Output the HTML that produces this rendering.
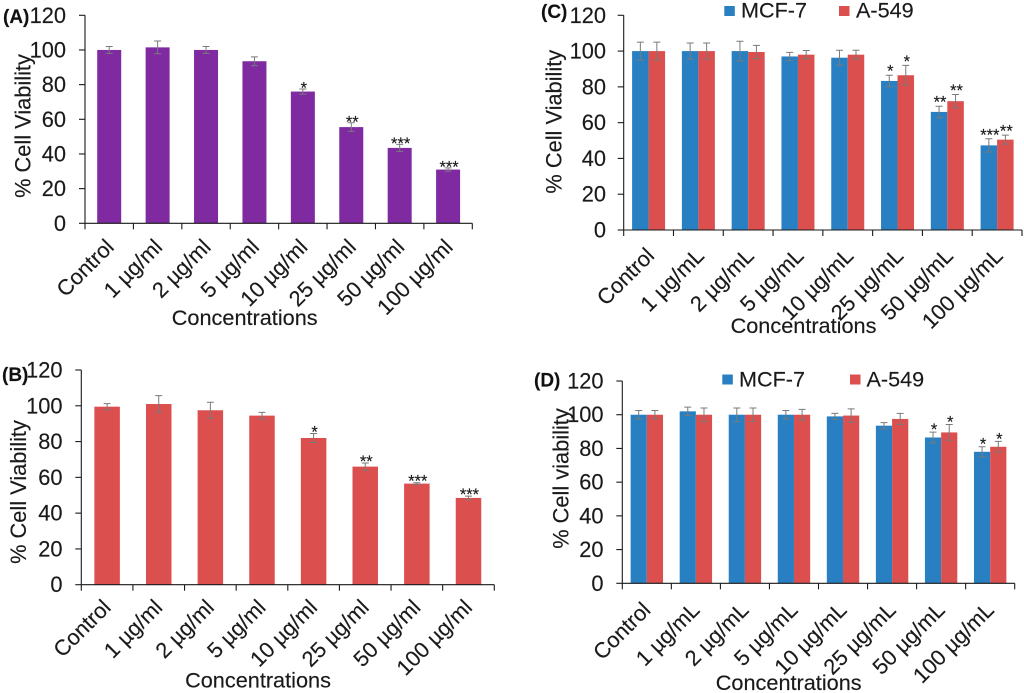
<!DOCTYPE html>
<html lang="en">
<head>
<meta charset="utf-8">
<title>Cell viability charts</title>
<style>
html,body{margin:0;padding:0;background:#fff;width:1024px;height:693px;overflow:hidden}
svg{display:block;filter:blur(0.35px)}
text{font-family:"Liberation Sans",Arial,sans-serif;fill:#1a1a1a;stroke:#1a1a1a;stroke-width:0.15px}
</style>
</head>
<body>
<svg id="figure" width="1024" height="693" viewBox="0 0 1024 693" xmlns="http://www.w3.org/2000/svg"></svg>
<script>
const yTicks = [0, 20, 40, 60, 80, 100, 120];
const categoriesLower = ['Control', '1 µg/ml', '2 µg/ml', '5 µg/ml', '10 µg/ml', '25 µg/ml', '50 µg/ml', '100 µg/ml'];
const categoriesUpper = ['Control', '1 µg/mL', '2 µg/mL', '5 µg/mL', '10 µg/mL', '25 µg/mL', '50 µg/mL', '100 µg/mL'];

const valuesA = [100, 101.5, 100, 93.5, 76, 55.5, 43.5, 31];
const errorsA = [2, 3.7, 2, 2.5, 1.5, 2.5, 2, 1];
const starsA = ['', '', '', '', '*', '**', '***', '***'];

const valuesB = [99.5, 101, 97.5, 94.5, 82, 66, 56.5, 48.5];
const errorsB = [1.7, 4.7, 4.5, 1.8, 2.5, 2, 0.5, 1];
const starsB = ['', '', '', '', '*', '**', '***', '***'];

const valuesCMcf = [100, 100, 100, 97, 96.3, 83.3, 66, 47.3];
const errorsCMcf = [5, 4.5, 5.5, 2.3, 4.2, 3.2, 3.2, 3.7];
const starsCMcf = ['', '', '', '', '', '*', '**', '***'];
const valuesCA549 = [100, 100, 99.5, 98, 98, 86.5, 72, 50.5];
const errorsCA549 = [5, 4.5, 3.7, 2.3, 2.5, 5.5, 3.7, 2.5];
const starsCA549 = ['', '', '', '', '', '*', '**', '**'];

const valuesDMcf = [100, 102, 100, 100, 99, 93.5, 86.5, 78];
const errorsDMcf = [2.5, 2.5, 4, 2.5, 1.8, 1.8, 3.2, 3];
const starsDMcf = ['', '', '', '', '', '', '*', '*'];
const valuesDA549 = [100, 100, 100, 100, 99.5, 97.5, 89.5, 81];
const errorsDA549 = [2.5, 4, 4, 3.2, 4, 3.3, 4.7, 3.2];
const starsDA549 = ['', '', '', '', '', '', '*', '*'];

const PURPLE = '#7f2aa1', RED = '#dc4f4f', BLUE = '#2880c2', GREY = '#7a7a7a', INK = '#1a1a1a';
const root = document.getElementById('figure');

function make(tag, attrs, content) {
  const node = document.createElementNS('http://www.w3.org/2000/svg', tag);
  for (const k in attrs) node.setAttribute(k, attrs[k]);
  if (content !== undefined) node.textContent = content;
  return node;
}

function drawPanel(p) {
  const g = make('g', {});
  
  
  root.appendChild(g);

  const yScale = v => p.y0 + (p.yTop - p.y0) * v / 120;
  const band = (p.right - p.x0) / p.categories.length;
  const bandCenter = i => p.x0 + band * (i + 0.5);

  // bars, error bars, significance marks
  p.series.forEach((s, si) => {
    s.values.forEach((v, i) => {
      const bx = bandCenter(i) - p.barW * p.series.length / 2 + si * p.barW;
      const cx = bx + p.barW / 2;
      const top = yScale(v);
      const bar = make('rect', {x: bx, y: top, width: p.barW, height: p.y0 - top, fill: s.color});
      
      
      g.appendChild(bar);

      const hi = yScale(v + s.errors[i]), lo = yScale(v - s.errors[i]);
      const err = make('path', {
        d: 'M' + (cx - 3.5) + ' ' + hi + 'H' + (cx + 3.5) + 'M' + cx + ' ' + hi + 'V' + lo + 'M' + (cx - 3.5) + ' ' + lo + 'H' + (cx + 3.5),
        stroke: GREY, 'stroke-width': 1, fill: 'none'
      });
      
      
      g.appendChild(err);

      if (s.stars[i]) {
        const star = make('text', {x: cx + 1, y: hi + p.starDy, 'text-anchor': 'middle', 'font-size': 16.5}, s.stars[i]);
        
        
        g.appendChild(star);
      }
    });
  });

  // axes
  const axisY = make('line', {x1: p.x0, x2: p.x0, y1: p.yTop, y2: p.y0, stroke: INK, 'stroke-width': 1.1});
  
  
  g.appendChild(axisY);
  const axisX = make('line', {x1: p.x0, x2: p.right, y1: p.y0, y2: p.y0, stroke: INK, 'stroke-width': 1.1});
  
  
  g.appendChild(axisX);

  yTicks.forEach(t => {
    const y = yScale(t);
    const tick = make('line', {x1: p.x0 - 6, x2: p.x0, y1: y, y2: y, stroke: INK, 'stroke-width': 1.1});
    
    
    g.appendChild(tick);
    const label = make('text', {x: p.tickRight, y: y + 7.5, 'text-anchor': 'end', 'font-size': p.font}, t);
    
    
    g.appendChild(label);
  });

  p.categories.forEach((c, i) => {
    const x = p.x0 + band * i;
    const tick = make('line', {x1: x, x2: x, y1: p.y0, y2: p.y0 + 6, stroke: INK, 'stroke-width': 1.1});
    
    
    g.appendChild(tick);
    const lx = bandCenter(i) + p.labelDx, ly = p.y0 + p.labelDy;
    const label = make('text', {x: lx, y: ly, 'text-anchor': 'end', 'font-size': p.font, transform: 'rotate(-45 ' + lx + ' ' + ly + ')'}, c);
    
    
    g.appendChild(label);
  });
  const endTick = make('line', {x1: p.right, x2: p.right, y1: p.y0, y2: p.y0 + 6, stroke: INK, 'stroke-width': 1.1});
  
  
  g.appendChild(endTick);

  // titles
  const yt = make('text', {x: p.yTitleX, y: p.yTitleY, 'text-anchor': 'middle', 'font-size': p.font, transform: 'rotate(-90 ' + p.yTitleX + ' ' + p.yTitleY + ')'}, p.yTitle);
  
  
  g.appendChild(yt);
  const xt = make('text', {x: p.xTitleX, y: p.xTitleY, 'text-anchor': 'middle', 'font-size': 21.7}, 'Concentrations');
  
  
  g.appendChild(xt);
  const tag = make('text', {x: p.tagX, y: p.tagY, 'font-size': 19, 'font-weight': 'bold', style: 'fill:#111'}, p.tag);
  
  
  g.appendChild(tag);

  // legend
  (p.legend || []).forEach(l => {
    const swatch = make('rect', {x: l.x, y: l.y, width: 10.5, height: 10, fill: l.color});
    
    
    g.appendChild(swatch);
    const text = make('text', {x: l.textX, y: l.textY, 'font-size': 21.6}, l.label);
    
    
    g.appendChild(text);
  });
}

drawPanel({
  id: 'a', x0: 85, right: 472.3, yTop: 15.3, y0: 223.3, barW: 24, font: 21.8,
  tickRight: 66, labelDx: 6, labelDy: 25, starDy: 4.5,
  yTitle: '% Cell Viability', yTitleX: 30.5, yTitleY: 126,
  xTitleX: 244.7, xTitleY: 325, tag: '(A)', tagX: 3, tagY: 23,
  categories: categoriesLower,
  series: [{name: 'single', color: PURPLE, values: valuesA, errors: errorsA, stars: starsA}]
});
drawPanel({
  id: 'b', x0: 81.3, right: 494.3, yTop: 370, y0: 584.7, barW: 25.5, font: 21.8,
  tickRight: 62.5, labelDx: 5, labelDy: 24, starDy: 4,
  yTitle: '% Cell Viability', yTitleX: 26, yTitleY: 492,
  xTitleX: 258, xTitleY: 687.7, tag: '(B)', tagX: 2, tagY: 381,
  categories: categoriesLower,
  series: [{name: 'single', color: RED, values: valuesB, errors: errorsB, stars: starsB}]
});
drawPanel({
  id: 'c', x0: 623.7, right: 1022, yTop: 15.3, y0: 230, barW: 16.5, font: 21.8,
  tickRight: 606, labelDx: 7, labelDy: 27, starDy: 1.5,
  yTitle: '% Cell Viability', yTitleX: 561.5, yTitleY: 121.7,
  xTitleX: 803.5, xTitleY: 333, tag: '(C)', tagX: 541, tagY: 18,
  categories: categoriesUpper,
  series: [
    {name: 'mcf-7', color: BLUE, values: valuesCMcf, errors: errorsCMcf, stars: starsCMcf},
    {name: 'a-549', color: RED, values: valuesCA549, errors: errorsCA549, stars: starsCA549}
  ],
  legend: [
    {label: 'MCF-7', color: BLUE, x: 724.3, y: 6, textX: 741, textY: 17.5},
    {label: 'A-549', color: RED, x: 839, y: 6, textX: 856, textY: 17.5}
  ]
});
drawPanel({
  id: 'd', x0: 622.3, right: 1014.7, yTop: 381, y0: 583.3, barW: 16.2, font: 21.8,
  tickRight: 603.5, labelDx: 5, labelDy: 28, starDy: 3,
  yTitle: '% Cell viability', yTitleX: 568.5, yTitleY: 478.5,
  xTitleX: 788.7, xTitleY: 690, tag: '(D)', tagX: 534, tagY: 386.5,
  categories: categoriesUpper,
  series: [
    {name: 'mcf-7', color: BLUE, values: valuesDMcf, errors: errorsDMcf, stars: starsDMcf},
    {name: 'a-549', color: RED, values: valuesDA549, errors: errorsDA549, stars: starsDA549}
  ],
  legend: [
    {label: 'MCF-7', color: BLUE, x: 722.3, y: 374.5, textX: 739, textY: 386.7},
    {label: 'A-549', color: RED, x: 850, y: 374.5, textX: 866.5, textY: 386.7}
  ]
});
</script>
</body>
</html>
